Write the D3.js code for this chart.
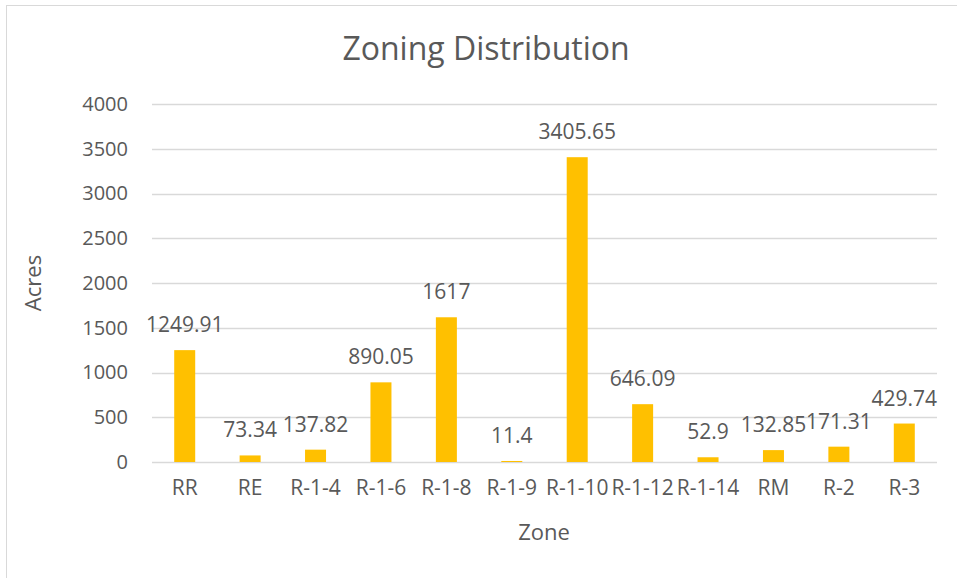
<!DOCTYPE html>
<html>
<head>
<meta charset="utf-8">
<script src="https://cdn.jsdelivr.net/npm/d3@7"></script>
<style>
  body { margin: 0; background: #fff; }
  text { font-family: "Open Sans", sans-serif; fill: #595959; }
</style>
</head>
<body>
<svg id="chart" width="957" height="578"></svg>
<script>
var zones = ["RR", "RE", "R-1-4", "R-1-6", "R-1-8", "R-1-9", "R-1-10", "R-1-12", "R-1-14", "RM", "R-2", "R-3"];
var acres = [1249.91, 73.34, 137.82, 890.05, 1617, 11.4, 3405.65, 646.09, 52.9, 132.85, 171.31, 429.74];
var yTicks = [0, 500, 1000, 1500, 2000, 2500, 3000, 3500, 4000];

var svg = d3.select("#chart");
var plotLeft = 152, plotRight = 937, plotTop = 104, plotBottom = 462;

// chart border (only top/left visible in frame)
svg.append("rect")
  .attr("x", 6.5).attr("y", 5.5)
  .attr("width", 1000).attr("height", 1000)
  .attr("fill", "none").attr("stroke", "#d9d9d9");

var x = d3.scaleBand().domain(zones).range([plotLeft, plotRight]);
var y = d3.scaleLinear().domain([0, 4000]).range([plotBottom, plotTop]);
var barWidth = 21;

// gridlines
svg.append("g").selectAll("line")
  .data(yTicks)
  .enter().append("line")
  .attr("x1", plotLeft).attr("x2", plotRight)
  .attr("y1", function(d) { return Math.round(y(d)) + 0.5; })
  .attr("y2", function(d) { return Math.round(y(d)) + 0.5; })
  .attr("stroke", "#d9d9d9")
  .attr("stroke-width", 1.3);

// y axis labels
var yAxis = svg.append("g")
  .attr("transform", "translate(" + plotLeft + ",0)")
  .call(d3.axisLeft(y).tickValues(yTicks).tickFormat(d3.format("d")).tickSize(0).tickPadding(24));
yAxis.select(".domain").remove();
yAxis.selectAll("text").attr("font-size", 20).attr("fill", "#595959")
  .style("font-family", "'Open Sans', sans-serif");

// x axis labels
var xAxis = svg.append("g")
  .attr("transform", "translate(0," + plotBottom + ")")
  .call(d3.axisBottom(x).tickSize(0).tickPadding(18));
xAxis.select(".domain").remove();
xAxis.selectAll("text").attr("font-size", 21).attr("fill", "#595959")
  .style("font-family", "'Open Sans', sans-serif");

// bars
svg.append("g").selectAll("rect")
  .data(acres)
  .enter().append("rect")
  .attr("x", function(d, i) { return x(zones[i]) + x.bandwidth() / 2 - barWidth / 2; })
  .attr("y", function(d) { return y(d); })
  .attr("width", barWidth)
  .attr("height", function(d) { return plotBottom - y(d); })
  .attr("fill", "#ffc000");

// value labels
svg.append("g").selectAll("text")
  .data(acres)
  .enter().append("text")
  .attr("x", function(d, i) { return x(zones[i]) + x.bandwidth() / 2; })
  .attr("y", function(d) { return y(d) - 18; })
  .attr("text-anchor", "middle")
  .attr("font-size", 21)
  .text(function(d) { return d; });

// titles
svg.append("text")
  .attr("x", 486).attr("y", 60)
  .attr("text-anchor", "middle")
  .attr("font-size", 32)
  .text("Zoning Distribution");

svg.append("text")
  .attr("x", 544).attr("y", 540)
  .attr("text-anchor", "middle")
  .attr("font-size", 22)
  .text("Zone");

svg.append("text")
  .attr("transform", "translate(41,283) rotate(-90)")
  .attr("text-anchor", "middle")
  .attr("font-size", 22)
  .text("Acres");
</script>
</body>
</html>
